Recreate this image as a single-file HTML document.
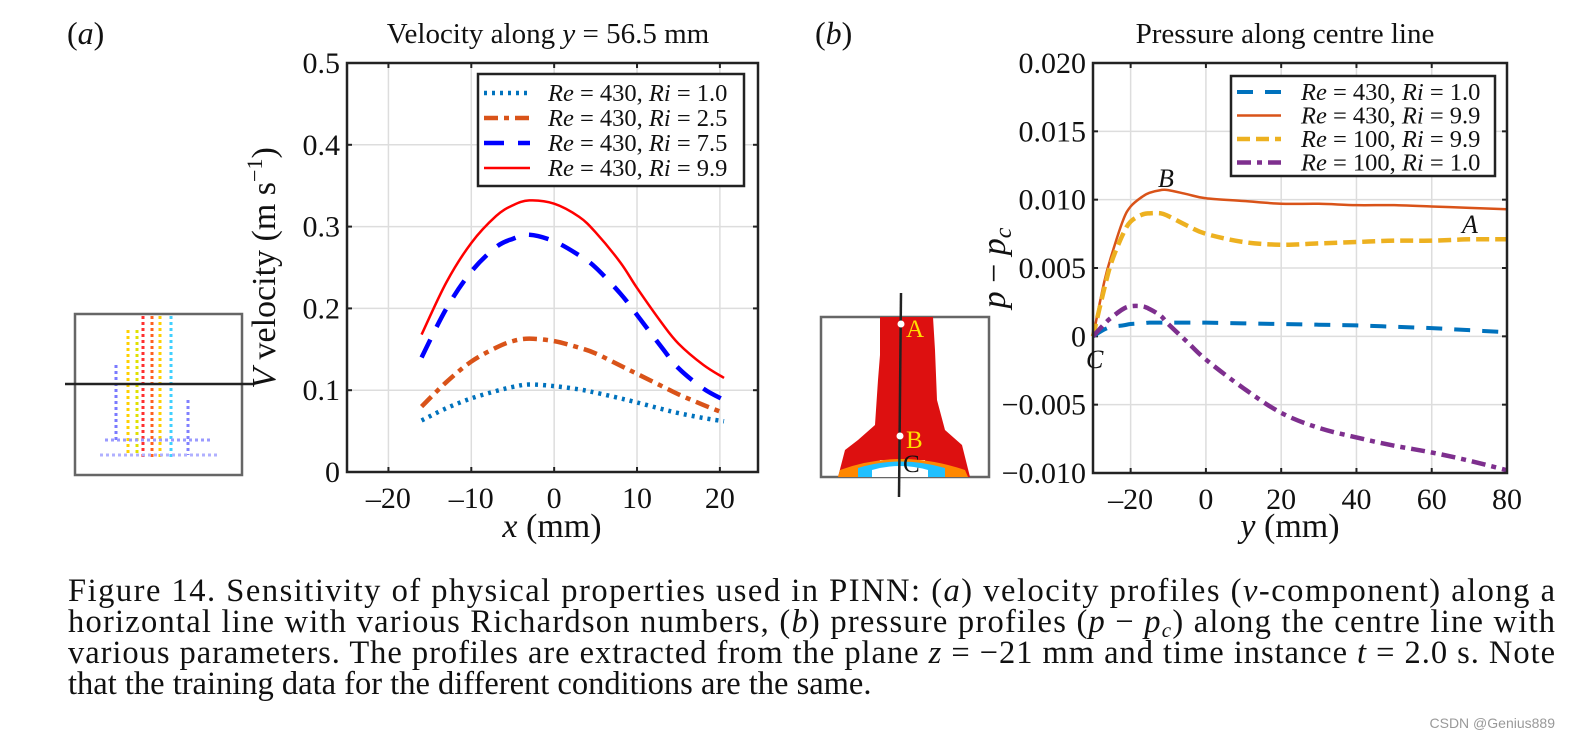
<!DOCTYPE html>
<html><head><meta charset="utf-8"><style>
body{margin:0;background:#fff;}
svg text{font-family:"Liberation Serif",serif;fill:#111;}
</style></head><body>
<svg id="fig" width="1589" height="746" viewBox="0 0 1589 746" xmlns="http://www.w3.org/2000/svg">
<text x="67" y="44" font-size="32">(<tspan font-style="italic">a</tspan>)</text>
<text x="548" y="43" font-size="29" text-anchor="middle">Velocity along <tspan font-style="italic">y</tspan> = 56.5 mm</text>
<text x="815" y="44" font-size="32">(<tspan font-style="italic">b</tspan>)</text>
<text x="1285" y="43" font-size="29" text-anchor="middle">Pressure along centre line</text>

<g>
<rect x="75" y="314" width="167" height="161" fill="none" stroke="#666" stroke-width="2.5"/>
<g stroke-width="3" stroke-dasharray="3 3">
<line x1="116" y1="365" x2="116" y2="440" stroke="#7a7aff"/>
<line x1="128" y1="330" x2="128" y2="455" stroke="#ffd000"/>
<line x1="137" y1="330" x2="137" y2="455" stroke="#e0e000"/>
<line x1="143" y1="316" x2="143" y2="460" stroke="#ff3030"/>
<line x1="152" y1="316" x2="152" y2="460" stroke="#ff6020"/>
<line x1="160" y1="316" x2="160" y2="460" stroke="#ffd000"/>
<line x1="171" y1="316" x2="171" y2="460" stroke="#40d0ff"/>
<line x1="188" y1="400" x2="188" y2="455" stroke="#8080ff"/>
<line x1="105" y1="440" x2="210" y2="440" stroke="#9a9aff"/>
<line x1="100" y1="455" x2="220" y2="455" stroke="#b0b0ff"/>
</g>
<line x1="65" y1="384" x2="253" y2="384" stroke="#222" stroke-width="2.5"/>
</g>

<g>
<rect x="821" y="317" width="168" height="160" fill="none" stroke="#666" stroke-width="2.5"/>
<path d="M880 317 L933 317 L935 350 L937 400 L945 430 L962 445 L970 477 L930 477 L925 460 L880 460 L870 477 L838 477 L845 450 L858 440 L875 425 L878 380 L880 355 Z" fill="#dd1010"/>
<path d="M840 470 Q900 448 965 470 L968 477 L838 477 Z" fill="#ff8800"/>
<path d="M858 468 Q900 455 945 468 L945 477 L858 477 Z" fill="#20c0ff"/>
<path d="M872 470 Q900 462 928 470 L928 477 L872 477 Z" fill="#ffffff"/>
<line x1="901" y1="293" x2="899" y2="497" stroke="#222" stroke-width="2.5"/>
<circle cx="901" cy="324" r="3.5" fill="#fff"/>
<circle cx="900" cy="436" r="3.5" fill="#fff"/>
<text x="906" y="337" font-size="25" style="fill:#ffe000">A</text>
<text x="906" y="448" font-size="25" style="fill:#ffe000">B</text>
<text x="903" y="472" font-size="25">C</text>
</g>

<g id="chartA"></g>
<g id="chartB"></g>

<text x="275" y="268" font-size="34" text-anchor="middle" transform="rotate(-90 275 268)"><tspan font-style="italic">V</tspan> velocity (m s<tspan dy="-13" font-size="22">−1</tspan><tspan dy="13">)</tspan></text>
<text x="552" y="537" font-size="34" text-anchor="middle"><tspan font-style="italic">x</tspan> (mm)</text>
<text x="1005" y="268" font-size="34" text-anchor="middle" transform="rotate(-90 1005 268)"><tspan font-style="italic">p</tspan> − <tspan font-style="italic">p</tspan><tspan font-style="italic" font-size="24" dy="6">c</tspan></text>
<text x="1290" y="537" font-size="34" text-anchor="middle"><tspan font-style="italic">y</tspan> (mm)</text>

<text x="1158" y="187" font-size="26" font-style="italic">B</text>
<text x="1462" y="233" font-size="26" font-style="italic">A</text>
<text x="1086" y="368" font-size="26" font-style="italic">C</text>

<g font-size="32.5">
<text x="68" y="601" textLength="1487" lengthAdjust="spacing">Figure 14. Sensitivity of physical properties used in PINN: (<tspan font-style="italic">a</tspan>) velocity profiles (<tspan font-style="italic">v</tspan>-component) along a</text>
<text x="68" y="632" textLength="1487" lengthAdjust="spacing">horizontal line with various Richardson numbers, (<tspan font-style="italic">b</tspan>) pressure profiles (<tspan font-style="italic">p</tspan> − <tspan font-style="italic">p</tspan><tspan font-style="italic" font-size="21" dy="5">c</tspan><tspan dy="-5">) along the centre line with</tspan></text>
<text x="68" y="663" textLength="1487" lengthAdjust="spacing">various parameters. The profiles are extracted from the plane <tspan font-style="italic">z</tspan> = −21 mm and time instance <tspan font-style="italic">t</tspan> = 2.0 s. Note</text>
<text x="68" y="694">that the training data for the different conditions are the same.</text>
</g>
<text x="1555" y="728" font-size="14" text-anchor="end" style="fill:#999;font-family:'Liberation Sans',sans-serif">CSDN @Genius889</text>
</svg>
<script>
const NS="http://www.w3.org/2000/svg";
// Chart A data
const aX=[-16,-13,-10,-7,-5,-3,0,3,5,8,10,13,15,18,20.5];
const aRi1=[0.063,0.078,0.090,0.099,0.104,0.107,0.105,0.101,0.097,0.090,0.085,0.077,0.072,0.066,0.062];
const aRi25=[0.080,0.110,0.135,0.152,0.160,0.163,0.160,0.152,0.145,0.130,0.120,0.105,0.095,0.082,0.072];
const aRi75=[0.140,0.200,0.245,0.275,0.285,0.290,0.282,0.265,0.250,0.218,0.192,0.152,0.127,0.102,0.088];
const aRi99=[0.168,0.232,0.280,0.313,0.326,0.332,0.328,0.312,0.293,0.256,0.225,0.182,0.157,0.131,0.115];
const aXTicks=[-20,-10,0,10,20];
const aYTicks=[0,0.1,0.2,0.3,0.4,0.5];
const aYTickLabels=["0","0.1","0.2","0.3","0.4","0.5"];
const aXTickLabels=["\u201320","\u201310","0","10","20"];
const aLegend=["Ri = 1.0","Ri = 2.5","Ri = 7.5","Ri = 9.9"];
// Chart B data
const bX=[-30,-27,-25,-22,-20,-17,-15,-12,-10,-5,0,10,20,30,40,50,60,70,80];
const bRe430Ri1=[0,0.0005,0.0007,0.0008,0.0009,0.00095,0.001,0.001,0.001,0.001,0.001,0.00095,0.0009,0.00085,0.0008,0.0007,0.0006,0.00045,0.0003];
const bRe430Ri99=[0,0.004,0.006,0.0085,0.0095,0.0102,0.0105,0.0107,0.0107,0.0104,0.0101,0.0099,0.0097,0.0097,0.0096,0.0096,0.0095,0.0094,0.0093];
const bRe100Ri99=[0,0.0035,0.0055,0.0075,0.0084,0.0089,0.009,0.009,0.0088,0.0081,0.0075,0.0069,0.0067,0.0068,0.0069,0.007,0.007,0.0071,0.0071];
const bRe100Ri1=[0,0.0009,0.0014,0.002,0.0022,0.0022,0.002,0.0015,0.0009,-0.0004,-0.0017,-0.0038,-0.0056,-0.0067,-0.0074,-0.008,-0.0085,-0.0091,-0.0098];
const bXTicks=[-20,0,20,40,60,80];
const bXTickLabels=["\u201320","0","20","40","60","80"];
const bYTicks=[-0.01,-0.005,0,0.005,0.01,0.015,0.02];
const bYTickLabels=["\u22120.010","\u22120.005","0","0.005","0.010","0.015","0.020"];
const bLegend=["Re = 430, Ri = 1.0","Re = 430, Ri = 9.9","Re = 100, Ri = 9.9","Re = 100, Ri = 1.0"];

function mk(tag,attrs,parent){const e=document.createElementNS(NS,tag);for(const k in attrs)e.setAttribute(k,attrs[k]);parent.appendChild(e);return e;}
function smooth(pts){let d="M"+pts[0][0]+" "+pts[0][1];for(let i=0;i<pts.length-1;i++){const p0=pts[i-1]||pts[i],p1=pts[i],p2=pts[i+1],p3=pts[i+2]||p2;const c1=[p1[0]+(p2[0]-p0[0])/6,p1[1]+(p2[1]-p0[1])/6],c2=[p2[0]-(p3[0]-p1[0])/6,p2[1]-(p3[1]-p1[1])/6];d+=` C${c1[0]} ${c1[1]} ${c2[0]} ${c2[1]} ${p2[0]} ${p2[1]}`;}return d;}

function chart(g,o){
  const sx=v=>o.x0+(v-o.xmin)/(o.xmax-o.xmin)*(o.x1-o.x0);
  const sy=v=>o.y1-(v-o.ymin)/(o.ymax-o.ymin)*(o.y1-o.y0);
  o.xt.forEach((t,i)=>{
    const l=mk('line',{x1:sx(t),x2:sx(t),y1:o.y0,y2:o.y1,stroke:'#ddd','stroke-width':1.5},g);
    
    
    const tx=mk('text',{x:sx(t),y:o.y1+36,'font-size':30,'text-anchor':'middle'},g);tx.textContent=o.xl[i];
    
    
    mk('line',{x1:sx(t),x2:sx(t),y1:o.y1,y2:o.y1-5,stroke:'#222','stroke-width':2},g);
    mk('line',{x1:sx(t),x2:sx(t),y1:o.y0,y2:o.y0+5,stroke:'#222','stroke-width':2},g);
  });
  o.yt.forEach((t,i)=>{
    const l=mk('line',{x1:o.x0,x2:o.x1,y1:sy(t),y2:sy(t),stroke:'#ddd','stroke-width':1.5},g);
    
    
    const tx=mk('text',{x:o.x0-7,y:sy(t)+10,'font-size':30,'text-anchor':'end'},g);tx.textContent=o.yl[i];
    
    
    mk('line',{x1:o.x0,x2:o.x0+5,y1:sy(t),y2:sy(t),stroke:'#222','stroke-width':2},g);
    mk('line',{x1:o.x1,x2:o.x1-5,y1:sy(t),y2:sy(t),stroke:'#222','stroke-width':2},g);
  });
  o.series.forEach(s=>{
    const p=mk('path',{d:smooth(o.xs.map((x,i)=>[sx(x),sy(s.v[i])])),fill:'none',stroke:s.c,'stroke-width':s.w,'stroke-dasharray':s.d||'none','stroke-linejoin':'round'},g);
    
    
  });
  const box=mk('rect',{x:o.x0,y:o.y0,width:o.x1-o.x0,height:o.y1-o.y0,fill:'none',stroke:'#222','stroke-width':2.5},g);
  
  
  const L=o.leg;
  const lg=mk('g',{},g);
  
  
  mk('rect',{x:L.x,y:L.y,width:L.w,height:L.h,fill:'#fff',stroke:'#222','stroke-width':2.5},lg);
  o.series.forEach((s,i)=>{
    const yy=L.y+L.first+i*L.step;
    mk('line',{x1:L.x+6,x2:L.x+L.lw,y1:yy,y2:yy,stroke:s.c,'stroke-width':s.w,'stroke-dasharray':s.d||'none'},lg);
    const t=mk('text',{x:L.x+L.tx,y:yy+8,'font-size':24.5},lg);
    const parts=o.legText[i].split(', ');
    t.innerHTML=parts.map(p=>{const [a,b]=p.split(' = ');return `<tspan font-style="italic">${a}</tspan> = ${b}`;}).join(', ');
    
    
  });
}
chart(document.getElementById('chartA'),{x0:347,x1:758,y0:63,y1:472,xmin:-25,xmax:24.6,ymin:0,ymax:0.5,xs:aX,xt:aXTicks,xl:aXTickLabels,yt:aYTicks,yl:aYTickLabels,
 series:[{v:aRi1,c:'#0072BD',w:4.5,d:'3 5',n:'line-ri-1-0'},{v:aRi25,c:'#D95319',w:4.5,d:'14 6 5 6',n:'line-ri-2-5'},{v:aRi75,c:'#0000FF',w:4.5,d:'20 14',n:'line-ri-7-5'},{v:aRi99,c:'#FF0000',w:2.5,d:null,n:'line-ri-9-9'}],
 leg:{x:478,y:74,w:266,h:112,first:19,step:25,lw:52,tx:70},legText:aLegend.map(s=>'Re = 430, '+s)});
chart(document.getElementById('chartB'),{x0:1093,x1:1507,y0:63,y1:473,xmin:-30,xmax:80,ymin:-0.01,ymax:0.02,xs:bX,xt:bXTicks,xl:bXTickLabels,yt:bYTicks,yl:bYTickLabels,
 series:[{v:bRe430Ri1,c:'#0072BD',w:4,d:'16 12',n:'line-re430-ri1'},{v:bRe430Ri99,c:'#D95319',w:2.5,d:null,n:'line-re430-ri9-9'},{v:bRe100Ri99,c:'#EDB120',w:4.5,d:'13 6',n:'line-re100-ri9-9'},{v:bRe100Ri1,c:'#7E2F8E',w:4.5,d:'14 6 5 6',n:'line-re100-ri1'}],
 leg:{x:1231,y:76,w:264,h:100,first:16,step:23.5,lw:50,tx:70},legText:bLegend});
</script>
</body></html>
